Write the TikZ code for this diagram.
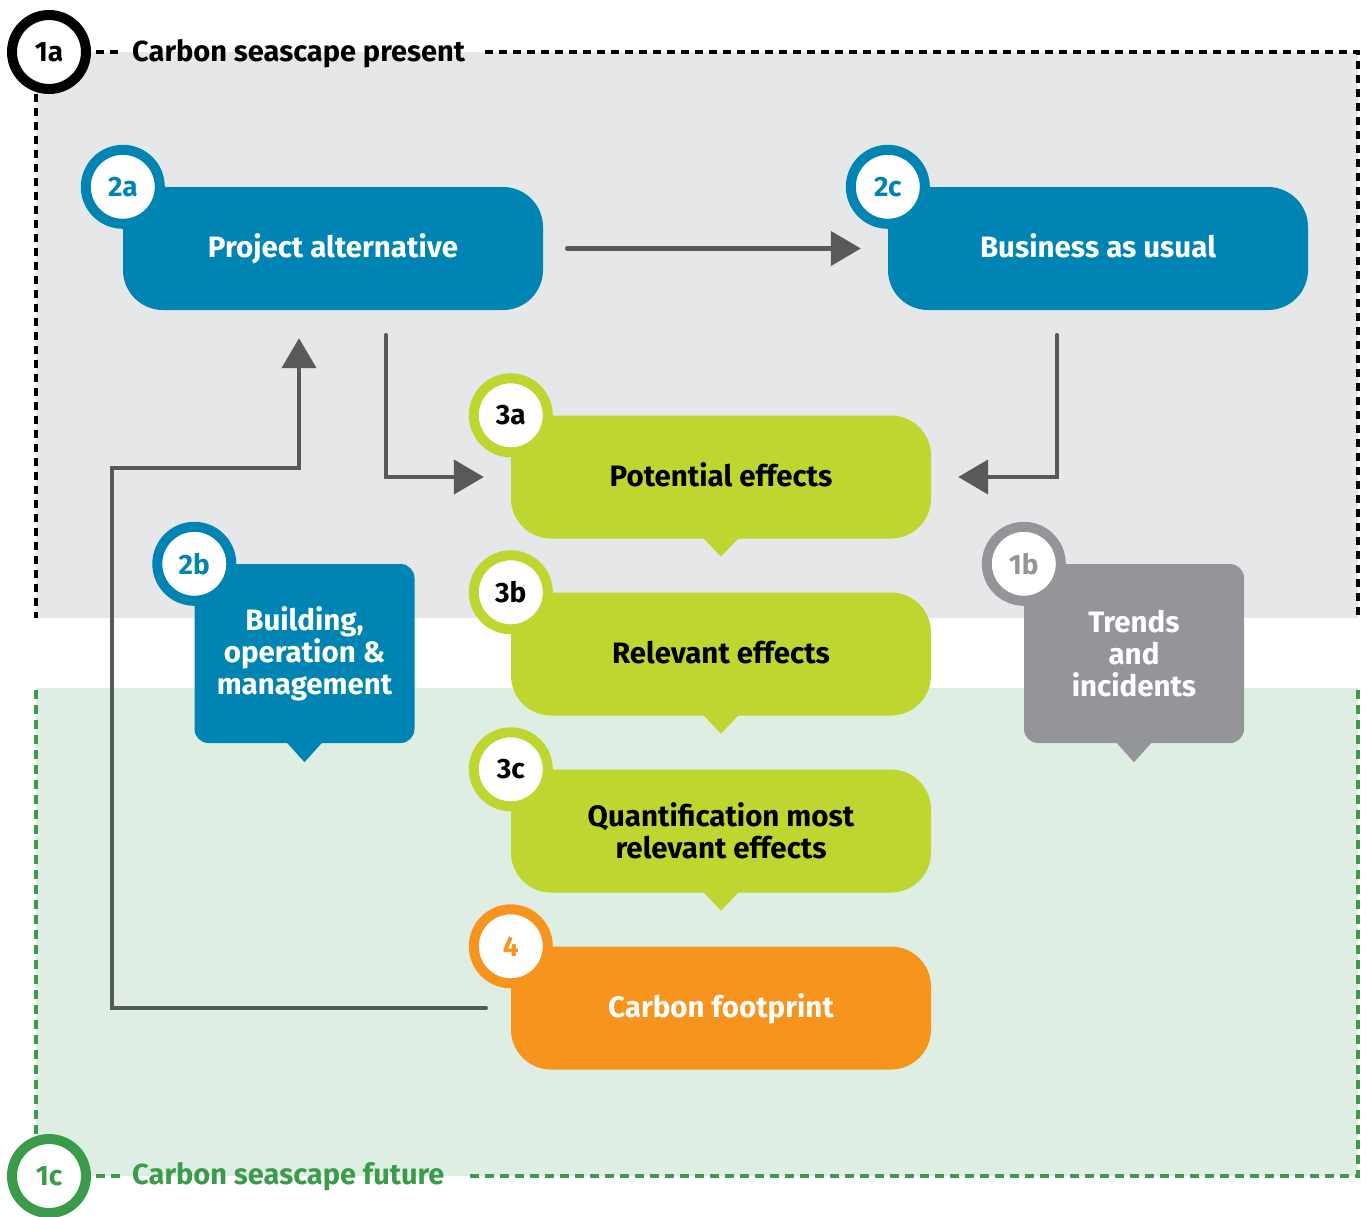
\documentclass[tikz,border=0pt]{standalone}
\usepackage{fontspec}
\setmainfont{Fira Sans}
\usetikzlibrary{arrows.meta,calc}

\definecolor{rwsblue}{RGB}{0,132,180}
\definecolor{rwslime}{RGB}{190,214,47}
\definecolor{rwsorange}{RGB}{247,148,29}
\definecolor{rwsgrey}{RGB}{147,149,152}
\definecolor{rwsdark}{RGB}{88,89,91}
\definecolor{rwsgreen}{RGB}{58,155,75}
\definecolor{presentbg}{RGB}{230,231,232}
\definecolor{futurebg}{RGB}{223,238,227}

\begin{document}
\begin{tikzpicture}[x=1pt,y=1pt,yscale=-1,
  stage/.style={rounded corners=40pt, minimum width=420pt, minimum height=123pt, inner sep=0pt, align=center, font=\fontsize{29.5}{32}\selectfont\bfseries},
  oneline/.style={text height=22pt, text depth=4pt},
  tallstage/.style={rounded corners=14pt, minimum width=220pt, minimum height=179pt},
  badge/.style={circle, draw=#1, text=#1, fill=white, line width=10pt, minimum size=74pt, inner sep=0pt, font=\fontsize{28}{28}\selectfont\bfseries},
  heading/.style={anchor=base west, inner sep=0pt, font=\fontsize{29}{29}\selectfont\bfseries},
  flow/.style={draw=rwsdark, line width=4.5pt, line cap=round, -{Triangle[length=30pt,width=34pt]}},
  blackdash/.style={draw=black, line width=3.5pt, dash pattern=on 8pt off 6pt},
  greendash/.style={draw=rwsgreen, line width=3.5pt, dash pattern=on 9pt off 6pt}]
\useasboundingbox (0,0) rectangle (1368,1216);

%Shape: Rectangle (present)
\fill[presentbg] (36,52) rectangle (1358,618);
%Shape: Rectangle (future)
\fill[futurebg] (36,688) rectangle (1358,1176);

%Straight Lines (present frame)
\draw[blackdash] (96,52) -- (122,52);
\draw[blackdash] (485,52) -- (1358,52) -- (1358,618);
\draw[blackdash] (36,94) -- (36,618);
%Straight Lines (future frame)
\draw[greendash] (96,1176) -- (122,1176);
\draw[greendash] (470,1176) -- (1358,1176) -- (1358,688);
\draw[greendash] (36,1134) -- (36,688);

% Text Node
\node[heading] (present) at (132,61) {Carbon seascape present};
% Text Node
\node[heading, text=rwsgreen] (future) at (132,1184) {Carbon seascape future};
% Badges of the frames
\node[badge=black] (present badge) at (49,52) {1a};
\node[badge=rwsgreen] (future badge) at (49,1176) {1c};

%Shape: Rounded Rectangles
\node[stage, oneline, fill=rwsblue, text=white] (alt) at (333,248.5) {Project alternative};
\node[stage, oneline, fill=rwsblue, text=white] (bau) at (1098,248.5) {Business as usual};
\node[stage, oneline, fill=rwslime] (pot) at (721,477) {Potential effects};
\node[stage, oneline, fill=rwslime] (rel) at (721,654) {Relevant effects};
\node[stage, fill=rwslime] (qua) at (721,831) {Quantification most\\relevant effects};
\node[stage, oneline, fill=rwsorange, text=white] (cfp) at (721,1008) {Carbon footprint};
\node[stage, tallstage, fill=rwsblue, text=white] (bom) at (304.5,653.5) {Building,\\operation \&\\management};
\node[stage, tallstage, fill=rwsgrey, text=white] (tri) at (1134,653.5) {Trends\\and\\incidents};

%Shape: Triangles (pointers)
\fill[rwslime] ($(pot.south)+(-18,-1)$) -- ($(pot.south)+(18,-1)$) -- ($(pot.south)+(0,18)$) -- cycle;
\fill[rwslime] ($(rel.south)+(-18,-1)$) -- ($(rel.south)+(18,-1)$) -- ($(rel.south)+(0,18)$) -- cycle;
\fill[rwslime] ($(qua.south)+(-18,-1)$) -- ($(qua.south)+(18,-1)$) -- ($(qua.south)+(0,18)$) -- cycle;
\fill[rwsblue] ($(bom.south)+(-18,-1)$) -- ($(bom.south)+(18,-1)$) -- ($(bom.south)+(0,19)$) -- cycle;
\fill[rwsgrey] ($(tri.south)+(-18,-1)$) -- ($(tri.south)+(18,-1)$) -- ($(tri.south)+(0,19)$) -- cycle;

% Badges of the steps
\node[badge=rwsblue] (alt badge) at (alt.north west) {2a};
\node[badge=rwsblue] (bau badge) at (bau.north west) {2c};
\node[badge=rwsblue] (bom badge) at (bom.north west) {2b};
\node[badge=rwsgrey] (tri badge) at (tri.north west) {1b};
\node[badge=black, draw=rwslime] (pot badge) at (pot.north west) {3a};
\node[badge=black, draw=rwslime] (rel badge) at (rel.north west) {3b};
\node[badge=black, draw=rwslime] (qua badge) at (qua.north west) {3c};
\node[badge=rwsorange] (cfp badge) at (cfp.north west) {4};

%Straight Lines (arrows)
\draw[flow, shorten <=24pt, shorten >=27pt] (alt.east) -- (bau.west);
\coordinate (alt out) at ($(alt.south)+(53,0)$);
\draw[flow, shorten <=25pt, shorten >=27pt] (alt out) |- (pot.west);
\coordinate (bau out) at ($(bau.south)+(-41,0)$);
\draw[flow, shorten <=25pt, shorten >=27pt] (bau out) |- (pot.east);
\coordinate (loop) at (112,468);
\draw[flow, shorten <=25pt, shorten >=28pt] (cfp.west) -| (loop) -| ($(alt.south)+(-34,0)$);

\end{tikzpicture}
\end{document}
